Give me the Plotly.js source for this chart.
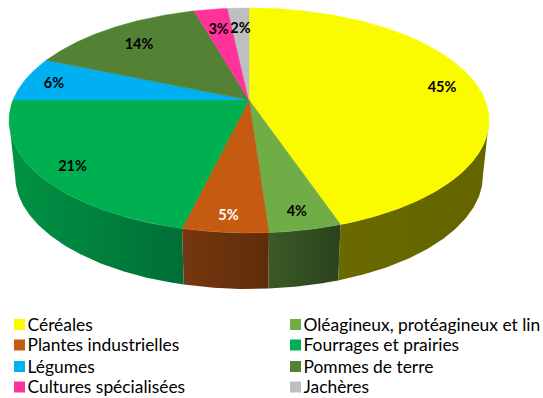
<!DOCTYPE html>
<html><head><meta charset="utf-8">
<script src="https://cdn.plot.ly/plotly-3.0.1.min.js"></script>
<style>html,body{margin:0;padding:0;background:#fff}#c{width:543px;height:398px}</style>
</head><body><div id="c"></div>
<script>
const categories = ["Céréales","Oléagineux, protéagineux et lin","Plantes industrielles","Fourrages et prairies","Légumes","Pommes de terre","Cultures spécialisées","Jachères"];
const values = [44.8,4.1,4.85,21.25,6.4,14.2,2.7,1.7];
const colors = ["#FBFB00","#70AD47","#C55A11","#00B050","#00B0F0","#548235","#FF3399","#BFBFBF"];
const wallLeft = ["#6A6A00","#3A5A26","#763810","#009444","#006A90","#324E20","#99205C","#737373"];
const wallRight = ["#646400","#2B421C","#5F2C08","#006E36","#006A90","#324E20","#99205C","#737373"];
const labelRadius = [0.85,0.87,0.88,0.86,0.87,0.78,0.77,0.77];
const labelColors = ["#000000","#000000","#FFFFFF","#000000","#000000","#000000","#000000","#000000"];

// perspective model of the disc, in plot coordinates
const K = 0.182;
const TOP = {cx:249, cy:100, A:236, B:108.8};
const BOT = {cx:249, cy:155, A:230, B:109.6};
const total = values.reduce((a,b)=>a+b,0);
function proj(d, deg, r){
  const t = deg*Math.PI/180, u = Math.sin(t)*r, v = -Math.cos(t)*r, w = 1-K*v;
  return [d.cx + d.A*u/w, d.cy + d.B*v/w];
}
const arc = (d,a,b) => { const n=Math.max(2,Math.ceil(Math.abs(b-a))*2), o=[];
  for(let i=0;i<=n;i++) o.push(proj(d,a+(b-a)*i/n,1)); return o; };
const tanR = Math.acos(-K)*180/Math.PI, tanL = 360-tanR;

const traces = [];
let cum = 0;
const spans = values.map(v=>{const s=[cum/total*360,(cum+v)/total*360]; cum+=v; return s;});

// side wall
spans.forEach(([a,b],i)=>{
  const lo=Math.max(a,tanR), hi=Math.min(b,tanL);
  if(hi<=lo) return;
  const pts = arc(TOP,lo,hi).concat(arc(BOT,hi,lo));
  pts.push(pts[0]);
  traces.push({type:"scatter",mode:"lines",x:pts.map(p=>p[0]),y:pts.map(p=>p[1]),
    fill:"toself",line:{width:0},hoverinfo:"skip",showlegend:false,
    fillcolor:wallRight[i],
    fillgradient:{type:"horizontal",colorscale:[[0,wallLeft[i]],[1,wallRight[i]]]}});
});
// top face
spans.forEach(([a,b],i)=>{
  const pts = [proj(TOP,0,0)].concat(arc(TOP,a,b)); pts.push(pts[0]);
  traces.push({type:"scatter",mode:"lines",x:pts.map(p=>p[0]),y:pts.map(p=>p[1]),
    fill:"toself",fillcolor:colors[i],line:{width:0.5,color:colors[i]},
    name:categories[i],hoverinfo:"name",showlegend:false});
});
// percentage labels
const lab = spans.map(([a,b],i)=>proj(TOP,(a+b)/2,labelRadius[i]));
traces.push({type:"scatter",mode:"text",x:lab.map(p=>p[0]),y:lab.map(p=>p[1]+3),
  text:values.map(v=>Math.round(v/total*100)+"%"),
  textposition:"middle center",
  textfont:{family:"Lato, sans-serif",size:14.5,weight:700,color:labelColors},
  hoverinfo:"skip",showlegend:false});
// legend, two columns read row by row
const colX=[19.5,295.5], rowY=[324.5,345,366.5,387];
const idx = categories.map((_,i)=>i);
traces.push({type:"scatter",mode:"markers",
  x:idx.map(i=>colX[i%2]), y:idx.map(i=>rowY[Math.floor(i/2)]),
  marker:{symbol:"square",size:11,color:colors,line:{width:0}},
  hoverinfo:"skip",showlegend:false,cliponaxis:false});
traces.push({type:"scatter",mode:"text",
  x:idx.map(i=>colX[i%2]+8), y:idx.map(i=>rowY[Math.floor(i/2)]+2),
  text:categories,
  textposition:"middle right",
  textfont:{family:"Lato, sans-serif",size:17.4,color:"#000"},
  hoverinfo:"skip",showlegend:false,cliponaxis:false});

Plotly.newPlot("c",traces,{
  width:543,height:398,margin:{l:0,r:0,t:0,b:0},
  paper_bgcolor:"#fff",plot_bgcolor:"#fff",showlegend:false,
  xaxis:{range:[0,543],visible:false,fixedrange:true},
  yaxis:{range:[398,0],visible:false,fixedrange:true}
},{displayModeBar:false,staticPlot:true});
</script></body></html>
